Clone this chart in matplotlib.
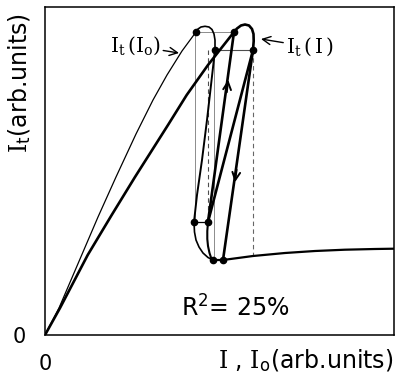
import numpy as np
from matplotlib import pyplot as plt

plt.rcParams['mathtext.fontset'] = 'dejavuserif'
plt.rcParams['font.family'] = ['DejaVu Sans']

# thin curve I_t(I_o): rise, loop, fall
thin_rise_x = [0, 14, 35, 53, 71, 91, 108, 122, 137, 151]
thin_rise_y = [0, 27, 76, 118, 158, 201, 235, 260, 284, 303]
thin_loop_x = [151, 153, 156, 160, 164, 167, 169, 170, 170, 170]
thin_loop_y = [303, 306, 308, 308.7, 308, 305.5, 301, 295, 288, 285]
thin_fall_x = [170, 166, 162, 157, 152, 149]
thin_fall_y = [285, 250, 215, 175, 140, 113]
thin_knee_x = [149, 149.5, 151, 154, 158, 163, 168]
thin_knee_y = [113, 103, 95, 88, 82, 77.5, 75]

# thick curve I_t(I)
thick_rise_x = [0, 15, 42.7, 66.7, 90, 123, 141.7, 163, 189]
thick_rise_y = [0, 27, 80, 120, 158, 210, 240, 270, 303]
thick_loop_x = [189, 192, 196, 200, 204, 207, 208.5, 208.7, 208]
thick_loop_y = [303, 306.5, 309.5, 310.5, 309.5, 306, 301, 294, 285]
thick_knee_x = [163, 162.3, 162.3, 163, 164.5, 166, 168]
thick_knee_y = [113, 104, 96, 89, 82, 77.5, 75]
thick_up_x = [163, 189]      # G -> E
thick_up_y = [113, 303]
thick_mid_x = [208, 163]     # F -> G
thick_mid_y = [285, 113]
thick_down_x = [208, 178]    # F -> H
thick_down_y = [285, 75]

# common tail
tail_x = [168, 178, 208, 240, 270, 300, 330, 349]
tail_y = [75, 75, 79, 82, 84, 85.3, 86, 86.3]

# switching points
dot_x = [151, 170, 189, 208, 149, 163, 168, 178]
dot_y = [303, 285, 303, 285, 113, 113, 75, 75]

fig = plt.figure(figsize=(3.96, 3.83), dpi=100)
ax = fig.add_axes([45/396, 48/383, 349/396, 328/383])

thin = 0.9
thick = 1.9
# construction lines
ax.plot([151, 189], [303, 303], color='0.55', lw=0.7)
ax.plot([170, 208], [285, 285], color='0.3', lw=0.8)
ax.plot([150, 150], [303, 113], color='0.55', lw=0.7)
ax.plot([169, 169], [285, 75], color='0.55', lw=0.7)
ax.plot([163, 163], [285, 113], color='0.3', lw=0.8, ls=(0, (4, 3)))
ax.plot([208, 208], [285, 80], color='0.4', lw=0.8, ls=(0, (4, 3)))
ax.plot([149, 163], [113, 113], color='k', lw=thin)

ax.plot(thin_rise_x, thin_rise_y, color='k', lw=thin)
ax.plot(thin_loop_x, thin_loop_y, color='k', lw=thin + 0.3)
ax.plot(thin_fall_x, thin_fall_y, color='k', lw=thin + 0.5)
ax.plot(thin_knee_x, thin_knee_y, color='k', lw=thin + 0.3)

ax.plot(thick_rise_x, thick_rise_y, color='k', lw=thick)
ax.plot(thick_loop_x, thick_loop_y, color='k', lw=thick)
ax.plot(thick_knee_x, thick_knee_y, color='k', lw=thick - 0.4)
ax.plot(thick_up_x, thick_up_y, color='k', lw=thick)
ax.plot(thick_mid_x, thick_mid_y, color='k', lw=thick)
ax.plot(thick_down_x, thick_down_y, color='k', lw=thick)
ax.plot(tail_x, tail_y, color='k', lw=thick - 0.3)

ax.plot(dot_x, dot_y, 'o', color='k', ms=4.5, ls='None')

# direction arrows
ax.annotate('', xy=(183.5, 258), xytext=(181.5, 240),
            arrowprops=dict(arrowstyle='->', lw=1.4, color='k', mutation_scale=14))
ax.annotate('', xy=(189.5, 150), xytext=(192, 168),
            arrowprops=dict(arrowstyle='->', lw=1.4, color='k', mutation_scale=14))

# labels of the two curves
ax.annotate(r'$\mathrm{I}_\mathrm{t}\,(\mathrm{I}_\mathrm{o})$', xy=(134, 282), xytext=(90, 289),
            ha='center', va='center', fontsize=14.5,
            arrowprops=dict(arrowstyle='->', lw=1.0, color='k', shrinkA=13, shrinkB=0))
ax.annotate(r'$\mathrm{I}_\mathrm{t}\,(\,\mathrm{I}\,)$', xy=(216, 296), xytext=(265, 288),
            ha='center', va='center', fontsize=14.5,
            arrowprops=dict(arrowstyle='->', lw=1.0, color='k', shrinkA=27, shrinkB=0))

ax.text(190, 28, r'R$^{\mathsf{2}}$= 25%', ha='center', va='center', fontsize=17)

ax.set_xlim(0, 349)
ax.set_ylim(0, 328)
ax.set_xticks([0])
ax.set_xticklabels(['0'], fontsize=15)
ax.set_yticks([0])
ax.set_yticklabels(['0'], fontsize=15)
ax.tick_params(length=0, pad=14)
for s in ax.spines.values():
    s.set_linewidth(1.1)

fig.text(393/396, 1 - 361/383, r'$\mathrm{I}$ , $\mathrm{I}_\mathsf{o}$(arb.units)',
         ha='right', va='center', fontsize=17)
fig.text(20/396, 1 - 13/383, r'$\mathrm{I}_\mathsf{t}$(arb.units)',
         ha='center', va='top', rotation=90, fontsize=17)

plt.savefig('out.png', dpi=100)
